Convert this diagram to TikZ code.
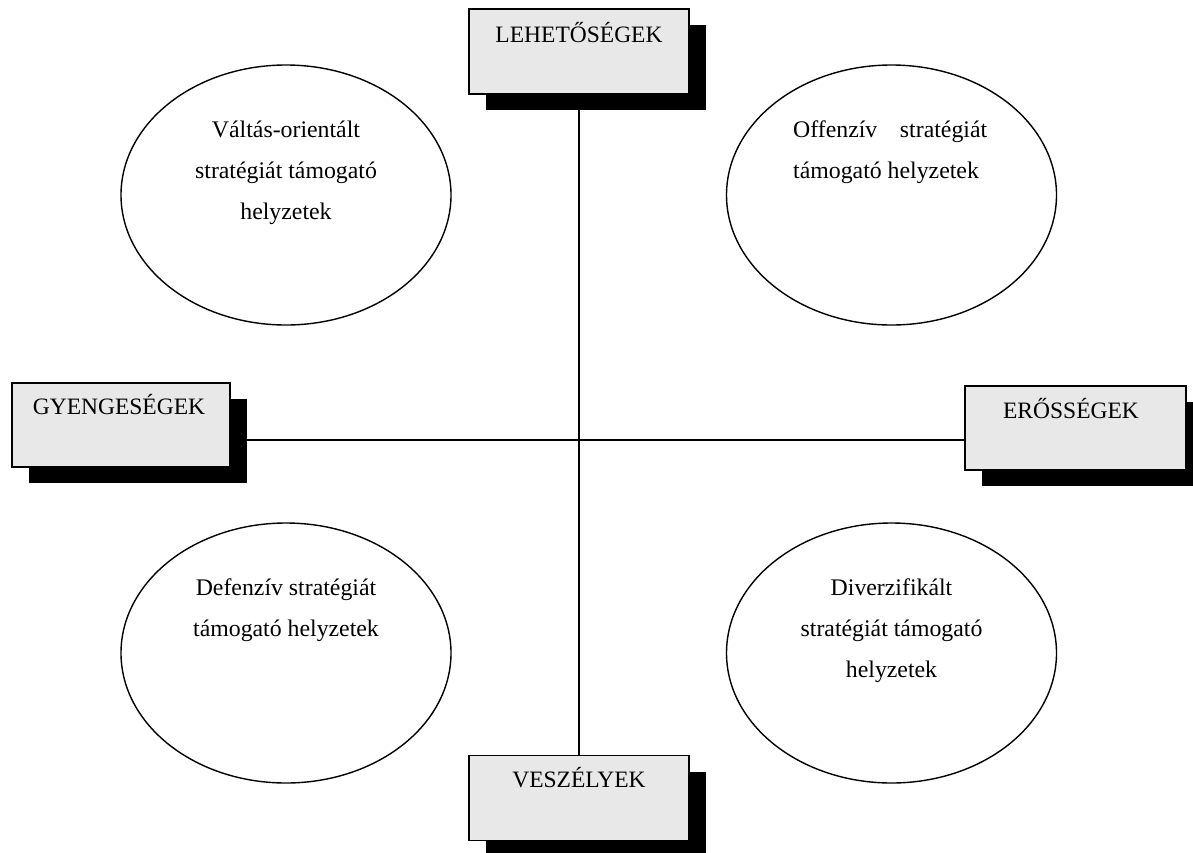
\documentclass[tikz,border=0pt]{standalone}
\usepackage{fontspec}
\setmainfont{Liberation Serif}
\usetikzlibrary{shapes.geometric,shadows,backgrounds}
\definecolor{boxgray}{HTML}{E8E8E8}
\begin{document}
\begin{tikzpicture}[x=1pt,y=-1pt,
  box/.style={rectangle, draw=black, line width=1.2pt, fill=boxgray, inner sep=0pt,
    minimum height=85pt,
    drop shadow={shadow xshift=17pt, shadow yshift=-16pt, fill=black, opacity=1}},
  lbl/.style={inner sep=0pt, anchor=base, font=\fontsize{23.5pt}{41pt}\selectfont},
  oval/.style={ellipse, draw=black, line width=1.4pt, minimum width=330pt,
    minimum height=260pt, inner sep=0pt},
  txt/.style={inner sep=0pt, anchor=base, font=\fontsize{23.8pt}{41pt}\selectfont},
  axisline/.style={line width=1.5pt, draw=black}]
\useasboundingbox (0,0) rectangle (1193,852);
% boxes
\node[box, minimum width=220pt] (le) at (579,51.5) {};
\node[lbl] (let) at (579,42) {LEHETŐSÉGEK};
\node[box, minimum width=220pt] (ve) at (579,798) {};
\node[lbl] (vet) at (579,787) {VESZÉLYEK};
\node[box, minimum width=218pt, minimum height=84pt] (gy) at (121,425) {};
\node[lbl] (gyt) at (119,414) {GYENGESÉGEK};
\node[box, minimum width=221pt, minimum height=84pt] (er) at (1075.5,428) {};
\node[lbl] (ert) at (1071,418) {ERŐSSÉGEK};
% ellipses
\node[oval] (tl) at (286,195) {};
\node[oval] (tr) at (891.5,195) {};
\node[oval] (bl) at (286,653) {};
\node[oval] (br) at (891.5,653) {};
\node[txt] (tlt) at (286,137) {\begin{tabular}[t]{@{}c@{}}Váltás-orientált\\stratégiát támogató\\helyzetek\end{tabular}};
\node[txt, anchor=base west] (trt) at (793,137) {\begin{tabular}[t]{@{}l@{}}\hbox to 194pt{Offenzív\hfill stratégiát}\\támogató helyzetek\end{tabular}};
\node[txt] (blt) at (286,595) {\begin{tabular}[t]{@{}c@{}}Defenzív stratégiát\\támogató helyzetek\end{tabular}};
\node[txt] (brt) at (891.5,595) {\begin{tabular}[t]{@{}c@{}}Diverzifikált\\stratégiát támogató\\helyzetek\end{tabular}};
% axes
\begin{scope}[on background layer]
\draw[axisline] (le.south) -- (ve.north);
\draw[axisline] ([yshift=-15pt]gy.east) -- ([yshift=-12pt]er.west);
\end{scope}
\end{tikzpicture}
\end{document}
